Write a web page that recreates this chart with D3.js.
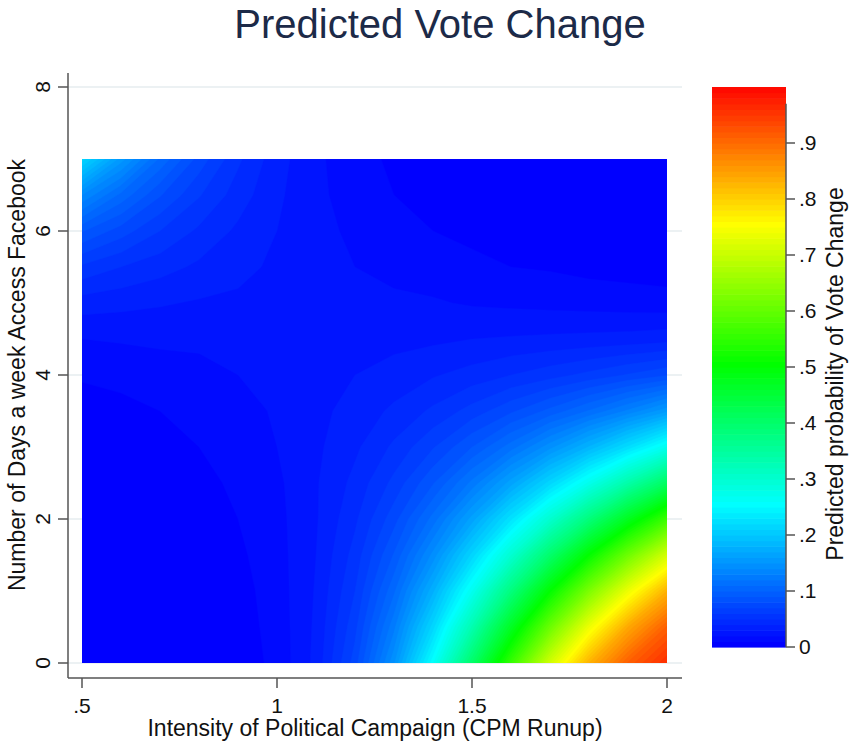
<!DOCTYPE html>
<html>
<head>
<meta charset="utf-8">
<script src="https://cdn.jsdelivr.net/npm/d3@7"></script>
<style>
  body { margin: 0; background: #ffffff; }
  svg { display: block; }
  text { font-family: "Liberation Sans", Arial, sans-serif; }
</style>
</head>
<body>
<svg id="chart" width="850" height="742"></svg>
<script>
// ---------------- data ----------------
const chartTitle = "Predicted Vote Change";
const xTitle = "Intensity of Political Campaign (CPM Runup)";
const yTitle = "Number of Days a week Access Facebook";
const legendTitle = "Predicted probability of Vote Change";

// grid columns: Intensity of Political Campaign (CPM Runup)
const cpm = [0.5, 0.6, 0.7, 0.8, 0.9, 1.0, 1.1, 1.2, 1.3, 1.4, 1.5, 1.6, 1.7, 1.8, 1.9, 2.0];
// grid rows: Number of Days a week Access Facebook
const days = [0, 0.5, 1, 1.5, 2, 2.5, 3, 3.5, 4, 4.5, 5, 5.5, 6, 6.5, 7];
// predicted probability of vote change, one row per value of days
const prob = [
  [0.000, 0.000, 0.000, 0.001, 0.004, 0.013, 0.033, 0.075, 0.148, 0.258, 0.401, 0.558, 0.710, 0.830, 0.912, 0.960],
  [0.000, 0.000, 0.001, 0.002, 0.005, 0.014, 0.032, 0.067, 0.127, 0.215, 0.332, 0.469, 0.609, 0.738, 0.840, 0.912],
  [0.000, 0.000, 0.001, 0.003, 0.006, 0.015, 0.031, 0.060, 0.108, 0.177, 0.269, 0.381, 0.504, 0.626, 0.737, 0.830],
  [0.000, 0.001, 0.002, 0.004, 0.008, 0.016, 0.030, 0.054, 0.091, 0.143, 0.213, 0.299, 0.399, 0.506, 0.612, 0.712],
  [0.001, 0.001, 0.003, 0.005, 0.010, 0.017, 0.029, 0.048, 0.076, 0.114, 0.164, 0.227, 0.301, 0.384, 0.474, 0.564],
  [0.001, 0.002, 0.004, 0.007, 0.012, 0.018, 0.029, 0.043, 0.063, 0.089, 0.123, 0.165, 0.215, 0.273, 0.339, 0.409],
  [0.003, 0.004, 0.006, 0.010, 0.014, 0.020, 0.028, 0.038, 0.052, 0.069, 0.090, 0.115, 0.146, 0.181, 0.222, 0.270],
  [0.006, 0.007, 0.010, 0.013, 0.017, 0.021, 0.027, 0.034, 0.042, 0.052, 0.064, 0.078, 0.093, 0.111, 0.132, 0.157],
  [0.011, 0.013, 0.015, 0.017, 0.020, 0.023, 0.026, 0.030, 0.034, 0.039, 0.044, 0.050, 0.056, 0.063, 0.071, 0.079],
  [0.020, 0.021, 0.022, 0.022, 0.023, 0.024, 0.025, 0.026, 0.027, 0.028, 0.030, 0.031, 0.032, 0.033, 0.034, 0.036],
  [0.035, 0.033, 0.031, 0.029, 0.028, 0.026, 0.025, 0.023, 0.022, 0.021, 0.019, 0.018, 0.017, 0.016, 0.015, 0.014],
  [0.058, 0.050, 0.044, 0.038, 0.033, 0.028, 0.024, 0.020, 0.017, 0.015, 0.012, 0.010, 0.009, 0.007, 0.006, 0.005],
  [0.091, 0.075, 0.060, 0.048, 0.038, 0.030, 0.023, 0.018, 0.014, 0.010, 0.008, 0.006, 0.004, 0.003, 0.002, 0.001],
  [0.140, 0.107, 0.081, 0.061, 0.045, 0.032, 0.022, 0.016, 0.010, 0.007, 0.005, 0.003, 0.002, 0.001, 0.001, 0.000],
  [0.215, 0.155, 0.108, 0.076, 0.052, 0.034, 0.022, 0.014, 0.008, 0.005, 0.003, 0.001, 0.001, 0.000, 0.000, 0.000]
];

const xTicks = [0.5, 1, 1.5, 2];
const xTickLabels = [".5", "1", "1.5", "2"];
const yTicks = [0, 2, 4, 6, 8];
const yTickLabels = ["0", "2", "4", "6", "8"];
const legendTicks = [0, 0.1, 0.2, 0.3, 0.4, 0.5, 0.6, 0.7, 0.8, 0.9];
const legendTickLabels = ["0", ".1", ".2", ".3", ".4", ".5", ".6", ".7", ".8", ".9"];
const levelStep = 0.01;
const levels = d3.range(0, 100).map(i => i * levelStep);
const legendRange = [0, 1];
const legendAxisMax = 0.97;
const rampStops = [0, 0.25, 0.5, 0.75, 1];
const rampColors = ["#0000ff", "#00ffff", "#00ff00", "#ffff00", "#ff0000"];

// ---------------- drawing ----------------
const svg = d3.select("#chart");
const axisColor = "#555555";
const gridColor = "#e6ecef";
const textColor = "#111111";

const x = d3.scaleLinear().domain([0.5, 2]).range([82, 667]);
const y = d3.scaleLinear().domain([0, 8]).range([663, 87]);
const color = d3.scaleLinear().domain(rampStops).range(rampColors).clamp(true);
const cb = d3.scaleLinear().domain(legendRange).range([647, 87]);

// index space of d3.contours -> data space
const ix = d3.scaleLinear().domain([0.5, cpm.length - 0.5]).range([cpm[0], cpm[cpm.length - 1]]);
const iy = d3.scaleLinear().domain([0.5, days.length - 0.5]).range([days[0], days[days.length - 1]]);

// title
svg.append("text")
  .attr("x", 440).attr("y", 38)
  .attr("text-anchor", "middle")
  .attr("font-size", 40)
  .attr("fill", "#1c2a48")
  .text(chartTitle);

// gridlines
svg.append("g").selectAll("line").data(yTicks).join("line")
  .attr("x1", 68).attr("x2", 682)
  .attr("y1", d => y(d)).attr("y2", d => y(d))
  .attr("stroke", gridColor).attr("stroke-width", 1.6);

// contour field
const clipId = "plotClip";
svg.append("defs").append("clipPath").attr("id", clipId)
  .append("rect")
  .attr("x", x(cpm[0])).attr("y", y(days[days.length - 1]))
  .attr("width", x(cpm[cpm.length - 1]) - x(cpm[0]))
  .attr("height", y(days[0]) - y(days[days.length - 1]));

const values = [];
prob.forEach(row => row.forEach(v => values.push(v)));
const contours = d3.contours()
  .size([cpm.length, days.length])
  .thresholds(levels)(values);

const proj = d3.geoTransform({
  point: function(px, py) { this.stream.point(x(ix(px)), y(iy(py))); }
});
const path = d3.geoPath(proj);

svg.append("g").attr("clip-path", `url(#${clipId})`)
  .selectAll("path").data(contours).join("path")
  .attr("d", path)
  .attr("fill", d => color(d.value))
  .attr("stroke", d => color(d.value))
  .attr("stroke-width", 0.4);

// axes lines
svg.append("line").attr("x1", 68).attr("x2", 68).attr("y1", 73).attr("y2", 678)
  .attr("stroke", axisColor).attr("stroke-width", 1.5);
svg.append("line").attr("x1", 68).attr("x2", 682).attr("y1", 678).attr("y2", 678)
  .attr("stroke", axisColor).attr("stroke-width", 1.5);

// y ticks
const yg = svg.append("g");
yg.selectAll("line").data(yTicks).join("line")
  .attr("x1", 58).attr("x2", 68)
  .attr("y1", d => y(d)).attr("y2", d => y(d))
  .attr("stroke", axisColor).attr("stroke-width", 1.5);
yg.selectAll("text").data(yTicks).join("text")
  .attr("transform", d => `translate(50,${y(d)}) rotate(-90)`)
  .attr("text-anchor", "middle")
  .attr("font-size", 21)
  .attr("fill", textColor)
  .text((d, i) => yTickLabels[i]);

// x ticks
const xg = svg.append("g");
xg.selectAll("line").data(xTicks).join("line")
  .attr("x1", d => x(d)).attr("x2", d => x(d))
  .attr("y1", 678).attr("y2", 688)
  .attr("stroke", axisColor).attr("stroke-width", 1.5);
xg.selectAll("text").data(xTicks).join("text")
  .attr("x", d => x(d)).attr("y", 713)
  .attr("text-anchor", "middle")
  .attr("font-size", 21)
  .attr("fill", textColor)
  .text((d, i) => xTickLabels[i]);

// axis titles
svg.append("text")
  .attr("x", 375).attr("y", 736)
  .attr("text-anchor", "middle")
  .attr("font-size", 23)
  .attr("fill", textColor)
  .text(xTitle);
svg.append("text")
  .attr("transform", "translate(25,375) rotate(-90)")
  .attr("text-anchor", "middle")
  .attr("font-size", 23)
  .attr("fill", textColor)
  .text(yTitle);

// colour legend
const lg = svg.append("g");
lg.selectAll("rect").data(levels).join("rect")
  .attr("x", 712).attr("width", 74)
  .attr("y", d => cb(Math.min(d + levelStep, legendRange[1])))
  .attr("height", d => cb(d) - cb(Math.min(d + levelStep, legendRange[1])) + 0.6)
  .attr("fill", d => color(d));
lg.append("line")
  .attr("x1", 786).attr("x2", 786)
  .attr("y1", cb(0)).attr("y2", cb(legendAxisMax))
  .attr("stroke", axisColor).attr("stroke-width", 1.5);
lg.selectAll("line.tick").data(legendTicks).join("line")
  .attr("class", "tick")
  .attr("x1", 786).attr("x2", 795)
  .attr("y1", d => cb(d)).attr("y2", d => cb(d))
  .attr("stroke", axisColor).attr("stroke-width", 1.5);
lg.selectAll("text.lbl").data(legendTicks).join("text")
  .attr("class", "lbl")
  .attr("x", 799).attr("y", d => cb(d))
  .attr("dy", "0.35em")
  .attr("font-size", 21)
  .attr("fill", textColor)
  .text((d, i) => legendTickLabels[i]);
svg.append("text")
  .attr("transform", "translate(843,374) rotate(-90)")
  .attr("text-anchor", "middle")
  .attr("font-size", 23)
  .attr("fill", textColor)
  .text(legendTitle);
</script>
</body>
</html>
